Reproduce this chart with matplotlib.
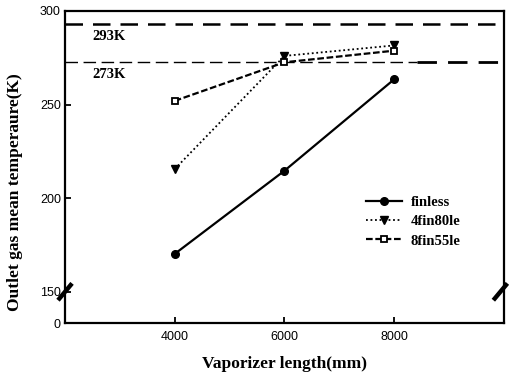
import matplotlib
matplotlib.use("Agg")
import matplotlib.pyplot as plt
from matplotlib.lines import Line2D

# Data
lengths = [4000, 6000, 8000]
finless = [170.3, 214.7, 263.5]
fin4_80le = [215.6, 276.0, 281.6]
fin8_55le = [252.0, 272.6, 278.8]
ref_temps = [293, 273]
ref_labels = ["293K", "273K"]
ytick_vals = [150, 200, 250, 300]
ytick_labels = ["150", "200", "250", "300"]
xtick_vals = [4000, 6000, 8000]

serif = ["Liberation Serif", "DejaVu Serif"]
sans = ["Liberation Sans", "DejaVu Sans"]

fig = plt.figure(figsize=(5.10, 3.78), dpi=100)
ax = fig.add_axes([0.1275, 0.1455, 0.8605, 0.8255])

ymin = 133.4  # visual bottom of the broken axis (shown as 0)
ax.set_xlim(2000, 10000)
ax.set_ylim(ymin, 300)

# reference lines
ax.axhline(ref_temps[0], color="black", lw=1.8, dashes=(7, 4))
ax.plot([2000, 8420], [ref_temps[1], ref_temps[1]], color="black", lw=1.0, dashes=(9, 4))
ax.plot([8420, 10000], [ref_temps[1], ref_temps[1]], color="black", lw=2.0, dashes=(7, 4))
ax.text(2500, ref_temps[0] - 3.2, ref_labels[0], family=serif, fontweight="bold",
        fontsize=10.5, va="top", ha="left")
ax.text(2500, ref_temps[1] - 3.2, ref_labels[1], family=serif, fontweight="bold",
        fontsize=10.5, va="top", ha="left")

ax.plot(lengths, finless, color="black", lw=1.6, ls="-", marker="o", ms=5.5,
        label="finless")
ax.plot(lengths, fin4_80le, color="black", lw=1.3, ls=(0, (1, 1.5)), marker="v", ms=6,
        label="4fin80le")
ax.plot(lengths, fin8_55le, color="black", lw=1.6, ls=(0, (3, 1.2)), marker="s", ms=5,
        mfc="white", mew=1.3, label="8fin55le")

ax.set_xticks(xtick_vals)
ax.set_xticklabels([str(v) for v in xtick_vals], family=sans, fontsize=9)
ax.set_yticks([ymin] + ytick_vals)
ax.set_yticklabels(["0"] + ytick_labels, family=sans, fontsize=9)
ax.tick_params(direction="in", length=4, width=1.3, pad=6)
ax.tick_params(axis="y", pad=3)

for s in ax.spines.values():
    s.set_linewidth(1.6)

ax.set_xlabel("Vaporizer length(mm)", family=serif, fontweight="bold", fontsize=12.5,
              labelpad=9)
ax.set_ylabel("Outlet gas mean temperaure(K)", family=serif, fontweight="bold",
              fontsize=12.5)
ax.yaxis.set_label_coords(-0.095, 0.42)

leg = ax.legend(loc="center left", bbox_to_anchor=(0.655, 0.325), frameon=False,
                prop={"family": serif, "weight": "bold", "size": 10.5},
                handlelength=2.5, handletextpad=0.6, labelspacing=0.42)

# axis break marks
def brk(xc, yc):
    ax.add_line(Line2D([xc - 0.016, xc + 0.016], [yc - 0.027, yc + 0.027],
                       transform=ax.transAxes, color="black", lw=3.2, clip_on=False,
                       solid_capstyle="butt"))

brk(0.0, 0.1)
brk(0.992, 0.1)

fig.savefig("out.png", dpi=100)
